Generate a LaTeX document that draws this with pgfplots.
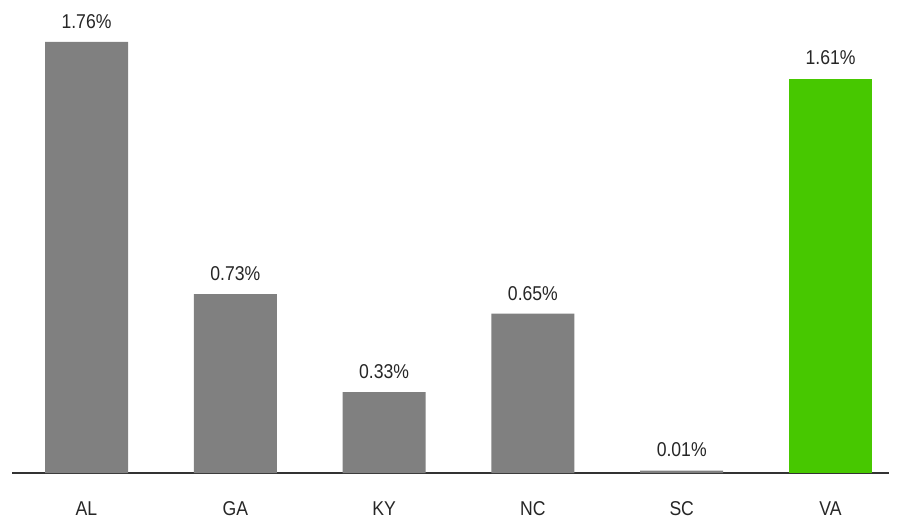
\documentclass[border=0pt]{standalone}
\usepackage{pgfplots}
\pgfplotsset{compat=1.18}
\usepackage{fontspec}
\setmainfont[FakeStretch=0.88]{Liberation Sans}
\definecolor{bargray}{HTML}{808080}
\definecolor{bargreen}{HTML}{47C800}
\definecolor{txt}{HTML}{262626}
\begin{document}
\begin{tikzpicture}[x=1pt,y=1pt]
\begin{axis}[
  at={(12pt,46pt)}, anchor=south west,
  scale only axis,
  width=877pt, height=473pt,
  xmin=-0.5007, xmax=5.393,
  ymin=0, ymax=1.9306,
  axis x line*=bottom,
  axis y line=none,
  x axis line style={draw=black!80, line width=1.2pt, -},
  xtick={0,1,2,3,4,5},
  xticklabels={AL,GA,KY,NC,SC,VA},
  major tick length=0pt,
  xticklabel style={font=\fontsize{20}{23}\selectfont, text=txt, yshift=-25pt},
  ybar, bar width=83pt, bar shift=0pt,
  nodes near coords={\pgfmathprintnumber[fixed,fixed zerofill,precision=2]{\pgfplotspointmeta}\%},
  nodes near coords style={font=\fontsize{20}{23}\selectfont, text=txt, anchor=south, yshift=10pt},
  /pgf/number format/assume math mode=true,
]
\addplot[draw=none, fill=bargray] coordinates {(0,1.76) (1,0.73) (2,0.33) (3,0.65) (4,0.01)};
\addplot[draw=none, fill=bargreen] coordinates {(5,1.61)};
\end{axis}
\pgfresetboundingbox
\path (0,0) rectangle (901,519);
\end{tikzpicture}
\end{document}
